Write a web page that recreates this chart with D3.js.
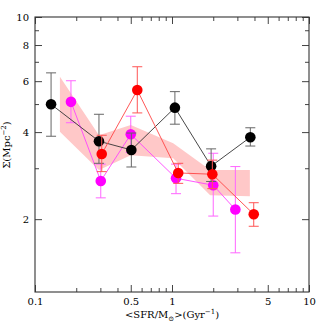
<!DOCTYPE html>
<html>
<head>
<meta charset="utf-8">
<script src="https://cdn.jsdelivr.net/npm/d3@7"></script>
<style>
  body { margin: 0; background: #fff; }
  text { font-family: "DejaVu Serif", serif; }
</style>
</head>
<body>
<svg class="chart" width="327" height="327"></svg>
<script>
// black series
const blackX = [0.131, 0.293, 0.505, 1.05, 1.93, 3.73];
const blackY = [4.99, 3.72, 3.47, 4.86, 3.05, 3.84];
const blackHi = [6.41, 4.61, 3.97, 5.52, 3.50, 4.14];
const blackLo = [3.87, 3.12, 3.03, 4.26, 2.70, 3.58];

// red series
const redX = [0.307, 0.558, 1.11, 1.97, 3.95];
const redY = [3.36, 5.59, 2.89, 2.86, 2.08];
const redHi = [3.90, 6.73, 3.12, 3.20, 2.28];
const redLo = [2.92, 4.66, 2.66, 2.55, 1.89];

// magenta series
const magX = [0.183, 0.302, 0.50, 1.07, 2.0, 2.9];
const magY = [5.09, 2.71, 3.93, 2.77, 2.62, 2.16];
const magHi = [6.02, 3.10, 4.54, 3.10, 3.38, 3.04];
const magLo = [4.31, 2.37, 3.40, 2.45, 2.05, 1.53];

// shaded band
const bandX = [0.152, 0.293, 0.50, 1.02, 1.9, 3.7];
const bandHi = [6.21, 3.90, 4.23, 3.66, 2.96, 2.96];
const bandLo = [4.01, 2.96, 3.33, 3.25, 2.42, 2.40];

// ticks
const xMajor = [0.1, 0.5, 1, 5, 10];
const xMinor = [0.2, 0.3, 0.4, 0.6, 0.7, 0.8, 0.9, 2, 3, 4, 6, 7, 8, 9];
const yMajor = [2, 4, 6, 8, 10];
const yMinor = [3, 5, 7, 9];

const margin = { left: 35, top: 17 };
const width = 274;
const height = 275;

const svg = d3.select(".chart");
const chart = svg.append("g")
  .attr("transform", `translate(${margin.left}, ${margin.top})`);

const xScale = d3.scaleLog().domain([0.1, 10]).range([0, width]);
const yScale = d3.scaleLog().domain([1.12, 10]).range([height, 0]);

// band
const band = d3.range(bandX.length).map(i => ({ x: bandX[i], hi: bandHi[i], lo: bandLo[i] }));
chart.append("path")
  .datum(band)
  .attr("fill", "#ffc8c8")
  .attr("d", d3.area()
    .x(d => xScale(d.x))
    .y0(d => yScale(d.lo))
    .y1(d => yScale(d.hi)));

function drawSeries(xs, ys, his, los, lineColor, barColor, dotColor) {
  const data = xs.map((x, i) => ({ x: x, y: ys[i], hi: his[i], lo: los[i] }));
  const g = chart.append("g");
  g.append("path")
    .datum(data)
    .attr("fill", "none")
    .attr("stroke", lineColor)
    .attr("stroke-width", 0.9)
    .attr("d", d3.line().x(d => xScale(d.x)).y(d => yScale(d.y)));
  const bars = g.selectAll(".eb").data(data).enter().append("g")
    .attr("stroke", barColor)
    .attr("stroke-width", 1);
  bars.append("line")
    .attr("x1", d => xScale(d.x)).attr("x2", d => xScale(d.x))
    .attr("y1", d => yScale(d.hi)).attr("y2", d => yScale(d.lo));
  bars.append("line")
    .attr("x1", d => xScale(d.x) - 5).attr("x2", d => xScale(d.x) + 5)
    .attr("y1", d => yScale(d.hi)).attr("y2", d => yScale(d.hi));
  bars.append("line")
    .attr("x1", d => xScale(d.x) - 5).attr("x2", d => xScale(d.x) + 5)
    .attr("y1", d => yScale(d.lo)).attr("y2", d => yScale(d.lo));
  g.selectAll("circle").data(data).enter().append("circle")
    .attr("cx", d => xScale(d.x))
    .attr("cy", d => yScale(d.y))
    .attr("r", 5.3)
    .attr("fill", dotColor);
}

drawSeries(magX, magY, magHi, magLo, "#ff44ff", "#ff66ff", "#ff00ff");
drawSeries(blackX, blackY, blackHi, blackLo, "#333", "#666", "#000");
drawSeries(redX, redY, redHi, redLo, "#ff4444", "#ff5555", "#ff0000");

// axes
function styleAxis(g) {
  g.selectAll(".domain").remove();
  g.selectAll("line").attr("stroke", "#444");
  g.selectAll("text").style("font-size", "10px").attr("fill", "#000")
    .style("font-family", "DejaVu Serif, serif");
}

chart.append("g").attr("transform", `translate(0, ${height})`)
  .call(d3.axisBottom(xScale).tickValues(xMajor).tickSize(-7).tickPadding(6).tickFormat(d3.format("")))
  .call(styleAxis);
chart.append("g").attr("transform", `translate(0, ${height})`)
  .call(d3.axisBottom(xScale).tickValues(xMinor).tickSize(-4).tickFormat(""))
  .call(styleAxis);
chart.append("g")
  .call(d3.axisTop(xScale).tickValues(xMajor).tickSize(-7).tickFormat(""))
  .call(styleAxis);
chart.append("g")
  .call(d3.axisTop(xScale).tickValues(xMinor).tickSize(-4).tickFormat(""))
  .call(styleAxis);

chart.append("g")
  .call(d3.axisLeft(yScale).tickValues(yMajor).tickSize(-7).tickPadding(6).tickFormat(d3.format("")))
  .call(styleAxis);
chart.append("g")
  .call(d3.axisLeft(yScale).tickValues(yMinor).tickSize(-4).tickFormat(""))
  .call(styleAxis);
chart.append("g").attr("transform", `translate(${width}, 0)`)
  .call(d3.axisRight(yScale).tickValues(yMajor).tickSize(-7).tickFormat(""))
  .call(styleAxis);
chart.append("g").attr("transform", `translate(${width}, 0)`)
  .call(d3.axisRight(yScale).tickValues(yMinor).tickSize(-4).tickFormat(""))
  .call(styleAxis);

// frame
chart.append("rect")
  .attr("width", width)
  .attr("height", height)
  .attr("fill", "none")
  .attr("stroke", "#333")
  .attr("stroke-width", 1.1);

// X axis label
const xl = chart.append("text")
  .attr("x", width / 2)
  .attr("y", height + 26)
  .attr("text-anchor", "middle")
  .style("font-size", "10px");
xl.append("tspan").text("<SFR/M");
xl.append("tspan").attr("dy", 3).style("font-size", "7px").text("⊙");
xl.append("tspan").attr("dy", -3).text(">(Gyr");
xl.append("tspan").attr("dy", -4).style("font-size", "7px").text("−1");
xl.append("tspan").attr("dy", 4).text(")");

// Y axis label
const yl = chart.append("text")
  .attr("transform", "rotate(-90)")
  .attr("x", -128)
  .attr("y", -25)
  .attr("text-anchor", "middle")
  .style("font-size", "10px");
yl.append("tspan").text("Σ(Mpc");
yl.append("tspan").attr("dy", -4).style("font-size", "7px").text("−2");
yl.append("tspan").attr("dy", 4).text(")");
</script>
</body>
</html>
